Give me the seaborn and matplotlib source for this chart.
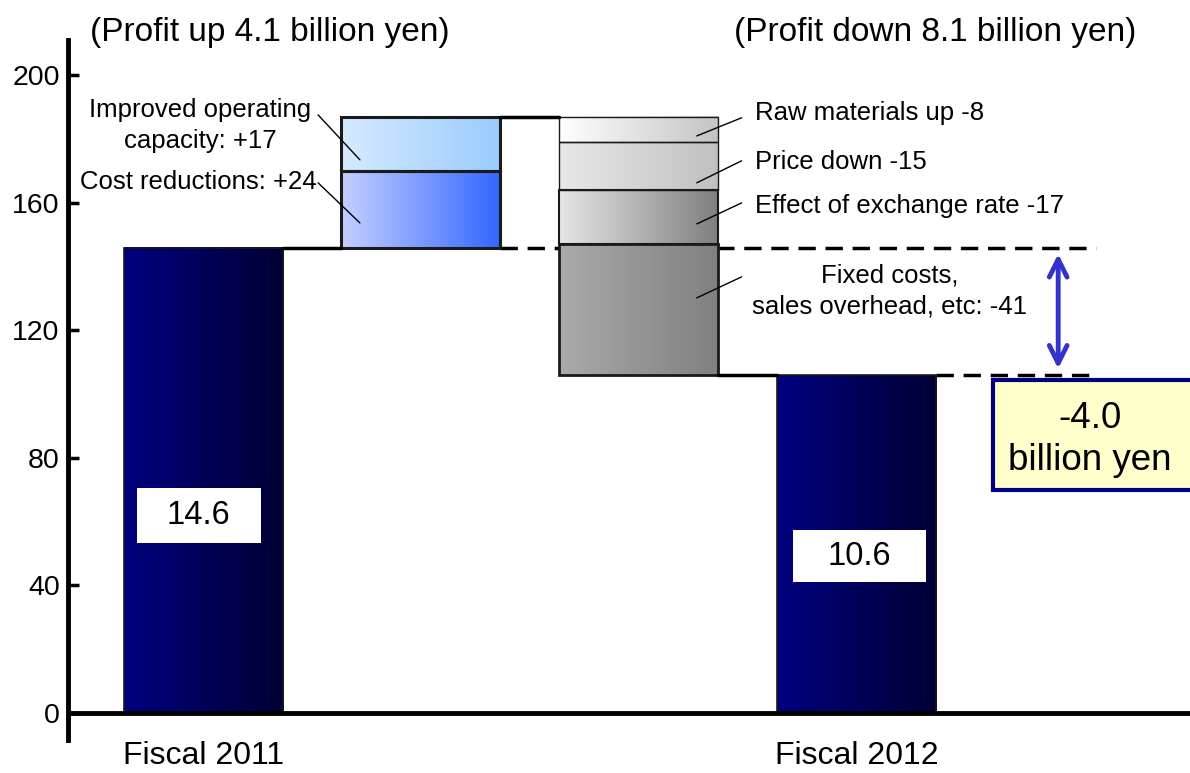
import numpy as np
import pandas as pd
import matplotlib
matplotlib.use("Agg")
import matplotlib.pyplot as plt
import seaborn as sns
from matplotlib.colors import LinearSegmentedColormap
from matplotlib.patches import Rectangle

# ---------------- data ----------------
categories = ["Fiscal 2011", "Increase", "Decrease", "Fiscal 2012"]
fy2011_value = 146
increase_labels = ["Cost reductions: +24", "Improved operating\ncapacity: +17"]
increase_values = [24, 17]
decrease_labels = ["Raw materials up -8", "Price down -15",
                   "Effect of exchange rate -17", "Fixed costs,\nsales overhead, etc: -41"]
decrease_values = [-8, -15, -17, -41]
fy2012_value = 106
yticks = [0, 40, 80, 120, 160, 200]
headers = ["(Profit up 4.1 billion yen)", "(Profit down 8.1 billion yen)"]
diff_label = "-4.0\nbillion yen"

# ---------------- style ----------------
sns.set_style("white")
plt.rcParams["font.family"] = ["Liberation Sans", "DejaVu Sans"]
plt.rcParams["text.color"] = "black"
plt.rcParams["xtick.color"] = "black"
plt.rcParams["ytick.color"] = "black"
plt.rcParams["axes.labelcolor"] = "black"

fig = plt.figure(figsize=(11.9, 7.73), dpi=100)
ax = fig.add_axes([68 / 1190, 1 - 740 / 773, 1 - 68 / 1190, (740 - 40) / 773])

W = 0.73
ANN_FS = 18.5

def grad_fill(patch, c_left, c_right):
    x0, y0 = patch.get_x(), patch.get_y()
    w, h = patch.get_width(), patch.get_height()
    cmap = LinearSegmentedColormap.from_list("g", [c_left, c_right])
    g = np.linspace(0, 1, 256).reshape(1, -1)
    ax.imshow(g, cmap=cmap, extent=[x0, x0 + w, y0, y0 + h], aspect="auto",
              zorder=patch.get_zorder() - 0.05, interpolation="bilinear")
    patch.set_facecolor("none")

def draw_bar(cat, bottom, height, c_left, c_right, lw=1.5):
    sns.barplot(x=[cat], y=[height], order=categories, bottom=bottom, width=W,
                color=c_right, edgecolor="#1a1a1a", linewidth=lw, errorbar=None,
                ax=ax, zorder=3)
    p = ax.patches[-1]
    grad_fill(p, c_left, c_right)
    return p

# Fiscal bars
draw_bar(categories[0], 0, fy2011_value, "#000080", "#000035", lw=1.2)
draw_bar(categories[3], 0, fy2012_value, "#000080", "#000035", lw=1.2)

# increase segments
inc_colors = [("#c4d0ff", "#3366ff"), ("#d6eaff", "#99ccff")]
running = fy2011_value
for v, (cl, cr) in zip(increase_values, inc_colors):
    draw_bar(categories[1], running, v, cl, cr, lw=2.2)
    running += v
top_value = running

# decrease segments
dec_colors = [("#ffffff", "#c4c4c4"), ("#e8e8e8", "#c0c0c0"),
              ("#e6e6e6", "#7f7f7f"), ("#aaaaaa", "#808080")]
dec_lw = [1.0, 1.0, 1.5, 2.0]
for v, (cl, cr), lw in zip(decrease_values, dec_colors, dec_lw):
    draw_bar(categories[2], running + v, -v, cl, cr, lw=lw)
    running += v
end_value = running

# connectors
ax.plot([0 + W / 2, 1 - W / 2], [fy2011_value] * 2, color="black", lw=2.5, zorder=4)
ax.plot([1 + W / 2, 2 - W / 2], [top_value] * 2, color="black", lw=2.5, zorder=4)
ax.plot([2 + W / 2, 3 - W / 2], [end_value] * 2, color="black", lw=2.5, zorder=4)
ax.plot([1 + W / 2, 4.1], [fy2011_value] * 2, color="black", lw=2.5,
        dashes=(5, 2.8), zorder=2)
ax.plot([3 + W / 2, 4.1], [end_value] * 2, color="black", lw=2.5,
        dashes=(5, 2.8), zorder=2)

# double arrow
ax.annotate("", xy=(3.925, end_value + 2), xytext=(3.925, fy2011_value - 2),
            arrowprops=dict(arrowstyle="<->", color="#3333cc", lw=3.5,
                            mutation_scale=32, shrinkA=0, shrinkB=0), zorder=5)

# difference box
ax.add_patch(Rectangle((3.625, 70), 1.0, 34.5, facecolor="#ffffcc",
                       edgecolor="#000080", lw=3, zorder=5, clip_on=True))
ax.text(4.07, 85.8, diff_label, ha="center", va="center", fontsize=26.5,
        linespacing=1.25, zorder=6)

# value boxes
ax.add_patch(Rectangle((-0.303, 53.3), 0.569, 17.3, facecolor="white",
                       edgecolor="none", zorder=5))
ax.text(-0.02, 61.8, f"{fy2011_value / 10:.1f}", ha="center", va="center",
        fontsize=23.5, zorder=6)
ax.add_patch(Rectangle((2.706, 41.1), 0.611, 16.3, facecolor="white",
                       edgecolor="none", zorder=5))
ax.text(3.01, 49.1, f"{fy2012_value / 10:.1f}", ha="center", va="center",
        fontsize=23.5, zorder=6)

# leader lines + labels (increase)
def leader(x0, y0, x1, y1):
    ax.plot([x0, x1], [y0, y1], color="black", lw=1, zorder=6)

leader(0.528, 187.6, 0.72, 173.5)
leader(0.528, 166.3, 0.72, 153.7)
ax.text(-0.014, 184.3, increase_labels[1], ha="center", va="center",
        fontsize=ANN_FS, linespacing=1.36, zorder=6)
ax.text(0.522, 166.6, increase_labels[0], ha="right", va="center",
        fontsize=ANN_FS, zorder=6)

# leader lines + labels (decrease)
dec_leaders = [(186.7, 181.0), (173.2, 166.3), (160.0, 153.4), (136.8, 130.2)]
dec_text_y = [188.2, 172.9, 159.0, 132.4]
for i, lab in enumerate(decrease_labels):
    y0, y1 = dec_leaders[i]
    leader(2.472, y0, 2.266, y1)
    if i < 3:
        ax.text(2.532, dec_text_y[i], lab, ha="left", va="center",
                fontsize=ANN_FS, zorder=6)
    else:
        ax.text(3.151, dec_text_y[i], lab, ha="center", va="center",
                fontsize=ANN_FS, linespacing=1.36, zorder=6)

# headers
ax.text(-0.52, 213.3, headers[0], ha="left", va="center", fontsize=24, clip_on=False)
ax.text(3.36, 213.3, headers[1], ha="center", va="center", fontsize=24, clip_on=False)

# axes
ax.set_xlim(-0.62, 4.53)
ax.set_ylim(-8.5, 211.1)
ax.axhline(0, color="black", lw=3.5, zorder=7)
ax.set_yticks(yticks)
ax.set_yticklabels([str(t) for t in yticks])
ax.tick_params(axis="y", direction="in", length=8, width=2.5, labelsize=20.5, pad=6,
               left=True)
ax.set_xticks(range(len(categories)))
ax.set_xticklabels(["Fiscal 2011", "", "", "Fiscal 2012"], fontsize=23,
                   family=["Liberation Sans Narrow", "Liberation Sans", "DejaVu Sans"])
ax.tick_params(axis="x", length=0, pad=1)
ax.set_xlabel("")
ax.set_ylabel("")
for s in ["top", "right", "bottom"]:
    ax.spines[s].set_visible(False)
ax.spines["left"].set_linewidth(3.5)
ax.spines["left"].set_color("black")

fig.savefig("out.png", dpi=100)
